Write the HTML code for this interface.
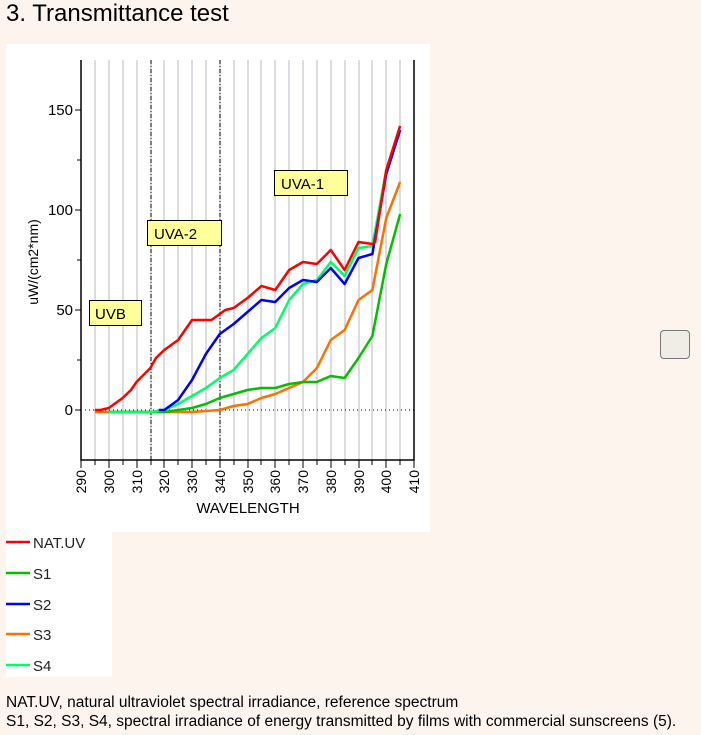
<!DOCTYPE html>
<html><head><meta charset="utf-8"><style>
body{margin:0;background:#fdf4ee;width:701px;height:735px;overflow:hidden;font-family:"Liberation Sans",sans-serif;position:relative}
.t{position:absolute;left:6px;top:0px;font-size:24px;color:#000}
.cap{position:absolute;left:6px;top:693px;font-size:15.5px;line-height:19px;color:#000}
.btn{position:absolute;left:660px;top:330px;width:28px;height:27px;border:1px solid #777;border-radius:4px;background:#efede6}
</style></head><body>
<div class="t">3. Transmittance test</div>
<svg width="701" height="735" style="position:absolute;left:0;top:0" font-family="Liberation Sans, DejaVu Sans, sans-serif">
<rect x="6" y="44" width="424" height="488" fill="#fff"/>
<rect x="6" y="532" width="106" height="145" fill="#fff"/>
<g stroke="#b8b8c0" stroke-width="1">
<path d="M95 60V460M109 60V460M123 60V460M137 60V460M151 60V460M164 60V460M178 60V460M192 60V460M206 60V460M220 60V460M234 60V460M248 60V460M261 60V460M275 60V460M289 60V460M303 60V460M317 60V460M331 60V460M345 60V460M359 60V460M372 60V460M386 60V460M400 60V460"/>
</g>
<path d="M151 60V460M220 60V460" stroke="#000" stroke-dasharray="4,2,1,2"/>
<path d="M85 410H414" stroke="#000" stroke-dasharray="1,3"/>
<path d="M81 60V460H414V60" fill="none" stroke="#000" stroke-width="1.5"/>
<g stroke="#000">
<path d="M75 110H81M77 160H81M75 210H81M77 260H81M75 310H81M77 360H81M75 410H81"/>
<path d="M81 460v8M95 460v5M109 460v8M123 460v5M137 460v8M151 460v5M164 460v8M178 460v5M192 460v8M206 460v5M220 460v8M234 460v5M248 460v8M261 460v5M275 460v8M289 460v5M303 460v8M317 460v5M331 460v8M345 460v5M359 460v8M372 460v5M386 460v8M400 460v5M414 460v8"/>
</g>
<g font-size="15" fill="#000" text-anchor="end">
<text x="73" y="115">150</text><text x="73" y="215">100</text><text x="73" y="315">50</text><text x="73" y="415">0</text>
</g>
<text transform="translate(38,262) rotate(-90)" font-size="14" text-anchor="middle">uW/(cm2*nm)</text>
<g font-size="14" text-anchor="end">
<text transform="translate(86,470) rotate(-90)">290</text><text transform="translate(114,470) rotate(-90)">300</text><text transform="translate(142,470) rotate(-90)">310</text><text transform="translate(169,470) rotate(-90)">320</text><text transform="translate(197,470) rotate(-90)">330</text><text transform="translate(225,470) rotate(-90)">340</text><text transform="translate(253,470) rotate(-90)">350</text><text transform="translate(280,470) rotate(-90)">360</text><text transform="translate(308,470) rotate(-90)">370</text><text transform="translate(336,470) rotate(-90)">380</text><text transform="translate(364,470) rotate(-90)">390</text><text transform="translate(391,470) rotate(-90)">400</text><text transform="translate(419,470) rotate(-90)">410</text>
</g>
<text x="248" y="513" font-size="15" text-anchor="middle">WAVELENGTH</text>
<g transform="translate(81,410) scale(2.775,-2)" fill="none" stroke-width="2.5" stroke-linejoin="round">
<polyline vector-effect="non-scaling-stroke" stroke="#ff7000" points="5,-1 40,-1 50,0 55,2 60,3 65,6 70,8 75,11 80,14 85,21 90,35 95,40 100,55 105,60 110,96 115,114"/>
<polyline vector-effect="non-scaling-stroke" stroke="#00c000" points="10,-1 30,-1 35,0 40,1 45,3 50,6 55,8 60,10 65,11 70,11 75,13 80,14 85,14 90,17 95,16 100,26 105,37 110,73 115,98"/>
<polyline vector-effect="non-scaling-stroke" stroke="#00ff66" points="10,-1 25,-1 30,0 35,3 40,7 45,11 50,16 55,20 60,28 65,36 70,41 75,55 80,63 85,65 90,74 95,67 100,81 105,82 110,120 115,142"/>
<polyline vector-effect="non-scaling-stroke" stroke="#0000ff" points="28,0 30,0 32,2 35,5 40,15 45,28 50,38 55,43 60,49 65,55 70,54 75,61 80,65 85,64 90,71 95,63 100,76 105,78 110,118 115,140"/>
<polyline vector-effect="non-scaling-stroke" stroke="#ff0000" points="5,0 7,0 10,1 12,3 15,6 18,10 20,14 25,21 27,26 30,30 35,35 40,45 45,45 47,45 50,48 52,50 55,51 60,56 65,62 70,60 75,70 80,74 85,73 90,80 95,70 100,84 105,83 106,84 110,120 115,142"/>
</g>
<g font-size="15">
<rect x="89.5" y="300.5" width="52" height="25" fill="#ffff99" stroke="#000"/><text x="95" y="319">UVB</text>
<rect x="147.5" y="220.5" width="74" height="25" fill="#ffff99" stroke="#000"/><text x="154" y="239">UVA-2</text>
<rect x="274.5" y="170.5" width="73" height="25" fill="#ffff99" stroke="#000"/><text x="281" y="189">UVA-1</text>
</g>
<g stroke-width="2.5">
<path d="M6 542H30" stroke="#ff0000"/><path d="M6 573H30" stroke="#00c000"/><path d="M6 604H30" stroke="#0000ff"/><path d="M6 634H30" stroke="#ff7000"/><path d="M6 665H30" stroke="#00ff66"/>
</g>
<g font-size="15" fill="#222">
<text x="33" y="548">NAT.UV</text><text x="33" y="579">S1</text><text x="33" y="610">S2</text><text x="33" y="640">S3</text><text x="33" y="671">S4</text>
</g>
</svg>
<div class="btn"></div>
<div class="cap">NAT.UV, natural ultraviolet spectral irradiance, reference spectrum<br>S1, S2, S3, S4, spectral irradiance of energy transmitted by films with commercial sunscreens (5).</div>
</body></html>
